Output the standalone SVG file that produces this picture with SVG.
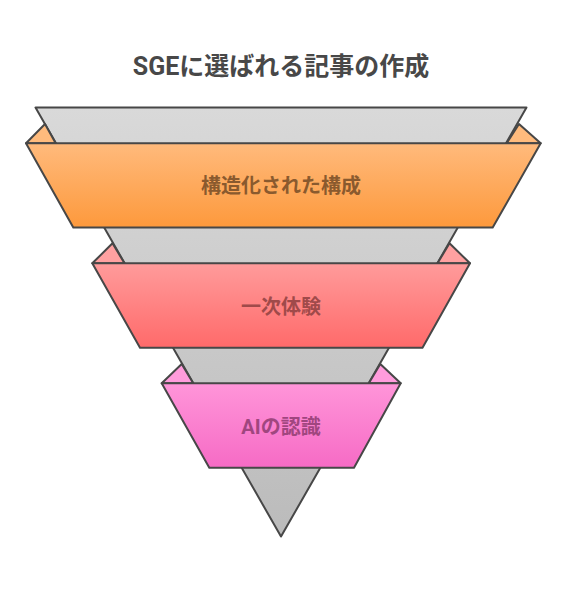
<svg xmlns="http://www.w3.org/2000/svg" width="565" height="600" viewBox="0 0 565 600">
  <defs>
    <linearGradient id="gGray" x1="0" y1="0" x2="0" y2="1">
      <stop offset="0" stop-color="#d9d9d9"/>
      <stop offset="1" stop-color="#bbbbbb"/>
    </linearGradient>
    <linearGradient id="gOrange" x1="0" y1="0" x2="0" y2="1">
      <stop offset="0" stop-color="#ffba7c"/>
      <stop offset="1" stop-color="#fd993c"/>
    </linearGradient>
    <linearGradient id="gRed" x1="0" y1="0" x2="0" y2="1">
      <stop offset="0" stop-color="#ff9b9b"/>
      <stop offset="1" stop-color="#ff6a6a"/>
    </linearGradient>
    <linearGradient id="gPink" x1="0" y1="0" x2="0" y2="1">
      <stop offset="0" stop-color="#ff95d9"/>
      <stop offset="1" stop-color="#f66bc5"/>
    </linearGradient>
  </defs>
  <style>
    .edge { stroke: #474747; stroke-width: 2; stroke-linejoin: round; }
    .title { font-family: Roboto, "Noto Sans CJK JP", sans-serif; font-weight: bold; font-size: 25px; fill: #484848; }
    .lbl { font-family: Roboto, "Noto Sans CJK JP", sans-serif; font-weight: bold; font-size: 20px; text-anchor: middle; }
  </style>
  <rect width="565" height="600" fill="#ffffff"/>
  <text class="title" x="281" y="74.5" text-anchor="middle">SGEに選ばれる記事の作成</text>

  <g id="funnel">
    <polygon class="edge" points="35.5,107.5 526.5,107.5 281,536.5" fill="url(#gGray)"/>
  </g>

  <g id="tier1">
    <polygon class="edge" points="26,143.3 45,124 55.7,143.3" fill="#ffbb7d"/>
    <polygon class="edge" points="540.7,143.3 519,124 506.7,143.3" fill="#ffbb7d"/>
    <polygon class="edge" points="26,143.3 540.7,143.3 492.7,227.5 73.3,227.5" fill="url(#gOrange)"/>
    <text class="lbl" x="281" y="192.5" fill="#8a5a2e">構造化された構成</text>
  </g>

  <g id="tier2">
    <polygon class="edge" points="92.3,263.3 112.5,243.3 124.5,263.3" fill="#ffa1a1"/>
    <polygon class="edge" points="470,263.3 449.5,243.3 437.5,263.3" fill="#ffa1a1"/>
    <polygon class="edge" points="92.3,263.3 470,263.3 422.5,347.7 140,347.7" fill="url(#gRed)"/>
    <text class="lbl" x="281" y="313.5" fill="#a04a4a">一次体験</text>
  </g>

  <g id="tier3">
    <polygon class="edge" points="161.7,383.3 181.7,364 193.2,383.3" fill="#ff9cdc"/>
    <polygon class="edge" points="400.7,383.3 380.3,364 368.8,383.3" fill="#ff9cdc"/>
    <polygon class="edge" points="161.7,383.3 400.7,383.3 354,467.7 209.3,467.7" fill="url(#gPink)"/>
    <text class="lbl" x="281" y="433.5" fill="#a0467f">AIの認識</text>
  </g>

  <g id="connectors"/>
</svg>
